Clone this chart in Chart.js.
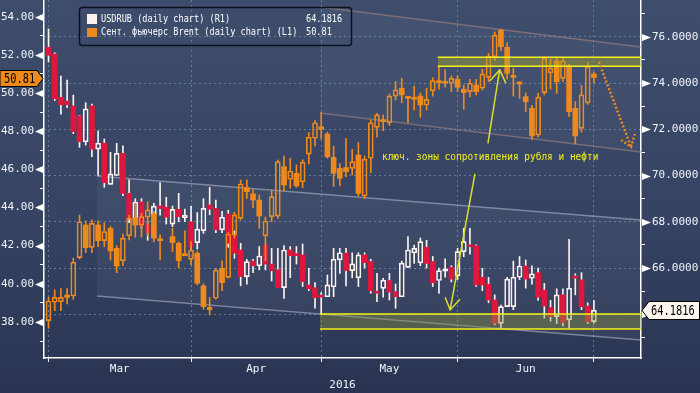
<!DOCTYPE html>
<html>
<head>
<meta charset="utf-8">
<script src="https://cdn.jsdelivr.net/npm/chart.js@4.4.0/dist/chart.umd.min.js"></script>
<style>
  html, body { margin: 0; padding: 0; background: #2c3653; }
  #wrap { width: 700px; height: 393px; position: relative; }
</style>
</head>
<body>
<div id="wrap"><canvas id="chart"></canvas></div>
<script>
// trading days from 1 Mar 2016 (index 0) to 1 Jul 2016 (index 88)
const MONTHS = ["Mar", "Apr", "May", "Jun"];
const MONTH_STARTS = [0, 23, 44, 66, 88];

// USDRUB daily candles (right axis)
const usdOpen = [75.54, 75.25, 73.38, 73.22, 73.01, 72.58, 71.46, 73.01, 71.14, 71.40,
    69.62, 70.00, 70.96, 69.23, 68.15, 68.86, 67.86, 68.29, 68.68, 68.63,
    67.90, 68.54, 68.18, 68.00, 67.10, 67.62, 68.73, 68.58, 67.65, 68.34,
    67.39, 66.78, 65.63, 66.30, 66.10, 66.99, 66.17, 65.92, 65.15, 66.78,
    66.61, 66.57, 65.27, 65.15, 64.76, 64.76, 65.19, 66.35, 66.64, 65.89,
    65.58, 66.57, 66.28, 64.95, 65.12, 65.46, 64.98, 64.76, 66.03, 66.66,
    66.23, 66.90, 66.28, 65.46, 65.86, 66.03, 65.66, 66.71, 66.96, 66.96,
    65.60, 65.30, 64.62, 63.61, 64.33, 64.33, 65.60, 66.09, 65.56, 65.80,
    65.05, 64.29, 63.90, 64.84, 63.76, 65.66, 65.49, 64.36, 63.68];
const usdHigh = [76.34, 75.31, 74.30, 74.13, 73.48, 72.60, 73.15, 73.09, 71.93, 71.58,
    71.00, 71.39, 71.28, 69.81, 69.00, 69.00, 68.00, 68.80, 69.69, 69.06,
    68.68, 69.23, 68.55, 68.67, 68.40, 69.00, 69.49, 68.94, 68.45, 68.50,
    67.60, 67.07, 66.38, 66.38, 66.93, 67.00, 66.85, 66.85, 66.97, 66.93,
    66.93, 67.04, 65.99, 65.37, 64.94, 65.70, 66.85, 66.85, 66.85, 66.66,
    66.66, 66.66, 66.38, 65.77, 65.56, 65.77, 65.31, 66.30, 67.36, 66.99,
    67.30, 67.20, 66.50, 66.00, 66.40, 66.10, 66.85, 67.72, 67.72, 67.00,
    65.99, 65.60, 64.84, 64.40, 65.60, 66.30, 66.50, 66.35, 66.10, 66.00,
    65.34, 64.60, 65.10, 65.10, 67.24, 65.75, 65.80, 64.50, 64.60];
const usdLow = [74.91, 73.24, 72.65, 72.93, 71.81, 71.22, 71.32, 70.82, 70.00, 69.49,
    69.62, 70.00, 69.13, 67.96, 67.95, 67.70, 67.20, 68.10, 68.29, 67.90,
    67.79, 68.00, 68.00, 66.80, 66.82, 67.50, 68.30, 67.53, 67.53, 66.90,
    66.42, 65.23, 65.30, 65.80, 65.92, 65.92, 65.44, 65.15, 64.69, 65.58,
    66.17, 65.20, 65.02, 64.26, 64.02, 64.76, 64.76, 65.77, 65.23, 65.58,
    65.20, 66.00, 64.91, 64.55, 64.74, 64.62, 64.26, 64.76, 66.03, 66.20,
    66.10, 66.00, 65.20, 64.90, 65.60, 65.40, 65.50, 66.49, 66.60, 65.20,
    65.02, 64.50, 63.54, 63.40, 64.33, 64.20, 65.50, 65.13, 65.30, 64.60,
    63.83, 63.70, 63.60, 63.50, 63.40, 64.84, 64.20, 63.60, 63.60];
const usdClose = [75.20, 73.32, 73.06, 73.06, 71.90, 71.46, 72.88, 71.14, 71.40, 69.69,
    70.07, 70.96, 69.23, 68.15, 68.85, 67.82, 67.52, 68.68, 68.57, 68.20,
    68.54, 68.22, 68.29, 66.92, 67.68, 68.58, 68.54, 67.65, 68.20, 67.07,
    66.64, 65.63, 66.28, 66.10, 66.52, 66.17, 65.88, 65.15, 66.78, 66.54,
    66.54, 65.41, 65.10, 64.72, 64.74, 65.27, 66.38, 66.66, 65.89, 66.18,
    66.57, 66.23, 65.02, 64.91, 65.48, 64.95, 64.76, 66.21, 66.78, 66.85,
    67.14, 66.20, 65.37, 65.89, 65.97, 65.52, 66.71, 67.14, 66.92, 65.27,
    65.27, 64.62, 63.61, 64.33, 65.52, 65.60, 66.09, 65.52, 65.75, 64.74,
    64.36, 63.90, 64.84, 63.64, 65.13, 65.56, 64.33, 63.68, 64.1816];

// Sept Brent futures daily candles (left axis), null = no session
const brentOpen = [38.07, 39.03, 39.06, 39.41, 39.36, 41.37, 43.08, 41.91, 43.08, 42.26,
    42.90, 41.86, 41.20, 42.52, 43.47, 43.08, 43.49, 43.66, 42.33, null,
    42.47, 42.12, 41.56, 41.28, 41.60, 39.89, 38.63, 39.24, 40.81, 40.34,
    42.56, 43.43, 45.04, 44.71, 44.39, 42.52, 43.52, 43.55, 46.14, 45.48,
    45.79, 45.35, 46.80, 47.63, 48.23, 47.85, 46.63, 46.05, 46.09, 46.05,
    46.75, 44.60, 46.58, 48.20, 48.59, 48.44, 49.84, 50.25, 49.78, 49.78,
    49.84, 49.37, 50.12, 50.65, 50.59, 50.51, 50.72, 50.20, 50.07, 50.42,
    50.25, 50.82, 51.90, 53.30, 52.40, 50.86, 50.51, 49.81, 49.20, 47.80,
    50.02, 51.06, 51.68, 50.77, 51.42, 49.20, 48.15, 49.49, 51.00];
const brentHigh = [39.29, 39.68, 39.75, 39.75, 41.34, 43.60, 43.30, 43.35, 43.30, 43.20,
    43.00, 42.00, 42.60, 43.60, 44.22, 43.70, 44.30, 43.80, 42.56, null,
    42.91, 42.20, 42.77, 42.21, 41.70, 40.00, 39.29, 40.81, 41.20, 42.70,
    43.75, 45.44, 45.44, 44.92, 44.65, 43.50, 44.92, 46.49, 46.70, 46.58,
    46.23, 46.50, 47.92, 48.55, 48.97, 47.95, 47.22, 46.30, 47.63, 47.05,
    47.40, 46.70, 48.59, 48.94, 48.85, 49.95, 50.59, 50.77, 49.84, 50.37,
    50.00, 50.25, 50.80, 51.38, 51.21, 50.89, 50.90, 50.42, 50.72, 50.72,
    51.25, 52.08, 53.20, 53.34, 52.64, 51.30, 50.59, 50.00, 49.35, 50.00,
    51.90, 51.76, 51.82, 51.82, 51.50, 49.55, 50.40, 51.60, 51.10];
const brentLow = [37.67, 38.59, 38.59, 38.95, 39.19, 41.30, 41.63, 41.63, 41.95, 41.95,
    41.25, 40.58, 40.95, 42.30, 42.44, 42.44, 42.50, 42.20, 41.25, null,
    41.68, 40.84, 41.47, 40.99, 39.94, 38.66, 38.37, 39.19, 39.64, 40.30,
    42.40, 43.34, 44.48, 43.99, 42.91, 41.20, 43.26, 43.43, 44.88, 45.00,
    45.06, 45.04, 46.28, 47.22, 47.57, 46.58, 45.10, 45.13, 45.61, 45.70,
    44.60, 44.48, 45.82, 47.68, 48.02, 48.30, 49.63, 49.49, 48.44, 49.11,
    48.73, 49.11, 49.84, 50.20, 50.30, 50.07, 50.07, 49.15, 49.80, 49.90,
    50.16, 50.59, 51.70, 52.22, 50.72, 49.84, 49.72, 49.02, 47.57, 47.70,
    49.90, 50.20, 49.98, 50.60, 48.76, 47.33, 47.95, 49.40, 50.51];
const brentClose = [39.10, 39.29, 39.29, 39.29, 41.13, 43.25, 41.89, 43.17, 42.26, 42.73,
    41.72, 40.93, 42.39, 43.43, 43.08, 43.52, 43.87, 42.39, 42.26, null,
    42.16, 41.21, 41.47, 41.77, 40.03, 38.80, 38.77, 40.72, 40.06, 42.61,
    43.61, 45.23, 44.83, 44.39, 43.55, 43.29, 44.57, 46.40, 45.18, 45.91,
    45.13, 46.38, 47.68, 48.44, 48.10, 46.66, 45.79, 45.53, 45.88, 46.40,
    44.74, 46.53, 48.44, 48.85, 48.50, 49.84, 50.16, 49.90, 49.72, 49.67,
    49.37, 49.67, 50.65, 50.54, 50.51, 50.77, 50.30, 50.02, 50.51, 50.07,
    51.00, 51.94, 53.04, 52.43, 51.03, 50.82, 50.47, 49.54, 47.75, 49.78,
    51.82, 51.30, 50.59, 51.68, 49.02, 47.75, 49.90, 51.40, 50.81];

// drawn annotations, [trading-day index, value]
const brentChannelTop = [[43.8, 54.51], [95.6, 52.41]];
const brentChannelBottom = [[43.8, 48.95], [95.6, 46.91]];
const usdChannelTop = [[7.8, 69.98], [95.6, 68.08]];
const usdChannelBottom = [[7.8, 64.79], [95.6, 62.89]];
const brentZone = [[62.8, 95.6], [51.40, 51.87]];
const usdZone = [[43.8, 95.6], [63.36, 64.01]];
const brentForecast = [[88.8, 51.63], [94.0, 47.17]];
const brentForecastHead = [[92.4, 47.54], [94.0, 47.17], [94.6, 47.85]];
const arrowUp = [[70.9, 47.36], [72.8, 51.21]];
const arrowUpHead = [[71.2, 50.63], [72.8, 51.21], [73.8, 50.52]];
const arrowDown = [[68.8, 70.07], [64.8, 64.19]];
const arrowDownHead = [[64.0, 64.74], [64.8, 64.19], [66.4, 64.65]];
const noteText = "ключ. зоны сопротивления рубля и нефти";
const notePos = [53.8, 46.66];

const SERIES_USD = "USDRUB (daily chart) (R1)";
const SERIES_BRENT = "Сент. фьючерс Brent (daily chart) (L1)";

const RED = "#e0163c";
const ORANGE = "#ee8a1c";
const WHITE = "#fdf3ee";
const YELLOW = "#f4f21a";
const ARROW = "#d9de2a";
const GRID = "rgba(105,140,172,0.8)";
const MONO = "'DejaVu Sans Mono', monospace";

Chart.defaults.font.family = MONO;
Chart.defaults.color = "#f2f4fa";

const pts = (arr) => arr.map(([x, y]) => ({ x, y }));

function candles(o, h, l, c, upColor, downColor, wickColor, axis) {
    const up = [], down = [], wickHi = [], wickLo = [];
    o.forEach((op, i) => {
        if (op == null) return;
        const top = Math.max(op, c[i]);
        const bot = Math.min(op, c[i]);
        wickHi.push({ x: i, y: [top, h[i]] });
        wickLo.push({ x: i, y: [l[i], bot] });
        (c[i] >= op ? up : down).push({ x: i, y: [op, c[i]] });
    });
    const base = { type: "bar", yAxisID: axis, grouped: false, borderSkipped: false };
    return [
        { ...base, data: up, backgroundColor: "rgba(0,0,0,0)", borderColor: upColor,
          borderWidth: 1, barThickness: 5, minBarLength: 2 },
        { ...base, data: down, backgroundColor: downColor, borderWidth: 0,
          barThickness: 5, minBarLength: 2 },
        { ...base, data: wickHi, backgroundColor: wickColor, barThickness: 1 },
        { ...base, data: wickLo, backgroundColor: wickColor, barThickness: 1 },
    ];
}

function line(data, axis, color, width, extra) {
    return { type: "line", yAxisID: axis, data: pts(data), borderColor: color,
        borderWidth: width, pointRadius: 0, tension: 0, fill: false, ...extra };
}

function zone(z, axis, fillColor) {
    const [[x0, x1], [lo, hi]] = z;
    return [
        line([[x0, hi], [x1, hi]], axis, YELLOW, 1.5),
        line([[x0, lo], [x1, lo]], axis, YELLOW, 1.5, { fill: "-1", backgroundColor: fillColor }),
    ];
}

// first dataset is drawn on top
const datasets = [
    line(arrowUp, "yL", ARROW, 1.5),
    line(arrowUpHead, "yL", ARROW, 1.5),
    line(arrowDown, "yR", ARROW, 1.5),
    line(arrowDownHead, "yR", ARROW, 1.5),
    line(brentForecast, "yL", ORANGE, 2.5, { borderDash: [2, 2] }),
    line(brentForecastHead, "yL", ORANGE, 2.5, { borderDash: [2, 2] }),
    ...zone(brentZone, "yL", "rgba(175,170,40,0.42)"),
    ...zone(usdZone, "yR", "rgba(140,150,65,0.4)"),
    ...candles(brentOpen, brentHigh, brentLow, brentClose, ORANGE, ORANGE, ORANGE, "yL"),
    ...candles(usdOpen, usdHigh, usdLow, usdClose, WHITE, RED, WHITE, "yR"),
    line(brentChannelTop, "yL", "rgba(175,135,125,0.55)", 1.5),
    line(brentChannelBottom, "yL", "rgba(175,135,125,0.55)", 1.5,
        { fill: "-1", backgroundColor: "rgba(255,255,255,0.035)" }),
    line(usdChannelTop, "yR", "rgba(195,200,220,0.5)", 1.5),
    line(usdChannelBottom, "yR", "rgba(195,200,220,0.5)", 1.5,
        { fill: "-1", backgroundColor: "rgba(255,255,255,0.045)" }),
];

const background = {
    id: "background",
    beforeDraw(chart) {
        const { ctx, width, height } = chart;
        const g = ctx.createLinearGradient(0, 0, 0, height);
        g.addColorStop(0, "#3f4d6d");
        g.addColorStop(0.55, "#364363");
        g.addColorStop(1, "#2a3452");
        ctx.save();
        ctx.fillStyle = g;
        ctx.fillRect(0, 0, width, height);
        ctx.restore();
    },
};

function squeezed(ctx, text, x, y, sx) {
    ctx.save();
    ctx.translate(x, y);
    ctx.scale(sx, 1);
    ctx.fillText(text, 0, 0);
    ctx.restore();
}

const overlay = {
    id: "overlay",
    afterDatasetsDraw(chart) {
        const { ctx } = chart;
        const sx = chart.scales.x, yl = chart.scales.yL;
        ctx.save();
        ctx.fillStyle = YELLOW;
        ctx.font = "11px " + MONO;
        ctx.textBaseline = "middle";
        squeezed(ctx, noteText, sx.getPixelForValue(notePos[0]), yl.getPixelForValue(notePos[1]), 0.86);
        ctx.restore();
    },
    afterDraw(chart) {
        const { ctx, chartArea } = chart;
        const yl = chart.scales.yL, yr = chart.scales.yR;
        ctx.save();
        // axis markers
        ctx.fillStyle = "#ffffff";
        yl.ticks.forEach((t) => {
            if (t.value % 2) return;
            const y = Math.round(yl.getPixelForValue(t.value)) + 0.5;
            ctx.beginPath();
            ctx.moveTo(chartArea.left - 9, y);
            ctx.lineTo(chartArea.left - 1, y - 3.5);
            ctx.lineTo(chartArea.left - 1, y + 3.5);
            ctx.fill();
        });
        yr.ticks.forEach((t) => {
            if (t.value % 2) return;
            const y = Math.round(yr.getPixelForValue(t.value)) + 0.5;
            ctx.beginPath();
            ctx.moveTo(chartArea.right + 10, y);
            ctx.lineTo(chartArea.right + 1, y - 3.5);
            ctx.lineTo(chartArea.right + 1, y + 3.5);
            ctx.fill();
        });

        // legend box
        const lastUsd = usdClose[usdClose.length - 1];
        const lastBrent = brentClose[brentClose.length - 1];
        ctx.strokeStyle = "#0b1020";
        ctx.lineWidth = 1.5;
        ctx.beginPath();
        ctx.roundRect(79.5, 7.5, 272, 38, 3);
        ctx.stroke();
        ctx.fillStyle = WHITE;
        ctx.fillRect(87, 14, 10, 10);
        ctx.fillStyle = ORANGE;
        ctx.fillRect(87, 28, 10, 9);
        ctx.fillStyle = "#ffffff";
        ctx.font = "11px " + MONO;
        ctx.textBaseline = "middle";
        squeezed(ctx, SERIES_USD, 101, 19.5, 0.78);
        squeezed(ctx, lastUsd.toFixed(4), 306, 19.5, 0.78);
        squeezed(ctx, SERIES_BRENT, 101, 32.5, 0.78);
        squeezed(ctx, lastBrent.toFixed(2), 306, 32.5, 0.78);

        // last value tags
        ctx.font = "14px " + MONO;
        ctx.lineWidth = 1;
        ctx.strokeStyle = "#000000";
        let y = Math.round(yl.getPixelForValue(lastBrent)) + 0.5;
        ctx.beginPath();
        ctx.moveTo(0, y - 8);
        ctx.lineTo(37, y - 8);
        ctx.lineTo(43, y);
        ctx.lineTo(37, y + 8);
        ctx.lineTo(0, y + 8);
        ctx.closePath();
        ctx.fillStyle = ORANGE;
        ctx.fill();
        ctx.stroke();
        ctx.fillStyle = "#000000";
        squeezed(ctx, lastBrent.toFixed(2), 4, y + 0.5, 0.74);

        y = Math.round(yr.getPixelForValue(lastUsd)) + 0.5;
        const r = chartArea.right;
        ctx.beginPath();
        ctx.moveTo(r + 1, y);
        ctx.lineTo(r + 8, y - 9);
        ctx.lineTo(699.5, y - 9);
        ctx.lineTo(699.5, y + 9);
        ctx.lineTo(r + 8, y + 9);
        ctx.closePath();
        ctx.fillStyle = "#fff5ef";
        ctx.fill();
        ctx.stroke();
        ctx.fillStyle = "#000000";
        squeezed(ctx, lastUsd.toFixed(4), r + 10, y + 0.5, 0.74);
        ctx.restore();
    },
};

const monthMids = MONTHS.map((m, i) => (MONTH_STARTS[i] + MONTH_STARTS[i + 1]) / 2);
const isMonthStart = (v) => MONTH_STARTS.includes(v);

new Chart(document.getElementById("chart"), {
    type: "bar",
    data: { datasets },
    plugins: [background, overlay],
    options: {
        responsive: true,
        maintainAspectRatio: false,
        animation: false,
        events: [],
        layout: { padding: 0 },
        plugins: { legend: { display: false }, tooltip: { enabled: false } },
        scales: {
            x: {
                type: "linear",
                min: -0.73,
                max: 95.6,
                offset: false,
                afterBuildTicks(scale) {
                    scale.ticks = [...MONTH_STARTS, ...monthMids]
                        .sort((a, b) => a - b)
                        .map((value) => ({ value }));
                },
                afterFit(scale) {
                    scale.height = 35;
                    scale.paddingLeft = 0;
                    scale.paddingRight = 0;
                },
                ticks: {
                    autoSkip: false,
                    maxRotation: 0,
                    padding: 1,
                    font: { size: 11 },
                    callback(value) {
                        const i = monthMids.indexOf(value);
                        return i >= 0 ? MONTHS[i] : "";
                    },
                },
                grid: {
                    offset: false,
                    color: (ctx) => (ctx.tick && isMonthStart(ctx.tick.value) ? GRID : "rgba(0,0,0,0)"),
                    tickColor: (ctx) => (ctx.tick && isMonthStart(ctx.tick.value) ? "#ffffff" : "rgba(0,0,0,0)"),
                    tickLength: 4,
                    tickBorderDash: [],
                },
                border: { color: "#ffffff", width: 1.5, dash: [2, 3] },
                title: { display: true, text: "2016", font: { size: 11 }, padding: { top: 0, bottom: 1 } },
            },
            yL: {
                type: "linear",
                position: "left",
                min: 36.11,
                max: 54.875,
                beginAtZero: false,
                afterBuildTicks(scale) {
                    const t = [];
                    for (let v = 37; v <= 54; v++) t.push({ value: v });
                    scale.ticks = t;
                },
                afterFit(scale) {
                    scale.width = 44;
                    scale.paddingTop = 0;
                    scale.paddingBottom = 0;
                },
                ticks: {
                    padding: 6,
                    font: { size: 11 },
                    callback: (v) => (v % 2 === 0 ? v.toFixed(2) : ""),
                },
                grid: { drawOnChartArea: false, tickLength: 4, tickColor: "#ffffff" },
                border: { color: "#ffffff", width: 1.5 },
            },
            yR: {
                type: "linear",
                position: "right",
                min: 62.11,
                max: 77.59,
                beginAtZero: false,
                afterBuildTicks(scale) {
                    const t = [];
                    for (let v = 63; v <= 77; v++) t.push({ value: v });
                    scale.ticks = t;
                },
                afterFit(scale) {
                    scale.width = 59;
                    scale.paddingTop = 0;
                    scale.paddingBottom = 0;
                },
                ticks: {
                    padding: 7,
                    font: { size: 11 },
                    callback: (v) => (v % 2 === 0 ? v.toFixed(4) : ""),
                },
                grid: {
                    color: (ctx) => (ctx.tick && ctx.tick.value % 2 === 0 ? GRID : "rgba(0,0,0,0)"),
                    tickColor: "#ffffff",
                    tickLength: 4,
                    tickBorderDash: [],
                },
                border: { color: "#ffffff", width: 1.5, dash: [2, 3] },
            },
        },
    },
});
</script>
</body>
</html>
